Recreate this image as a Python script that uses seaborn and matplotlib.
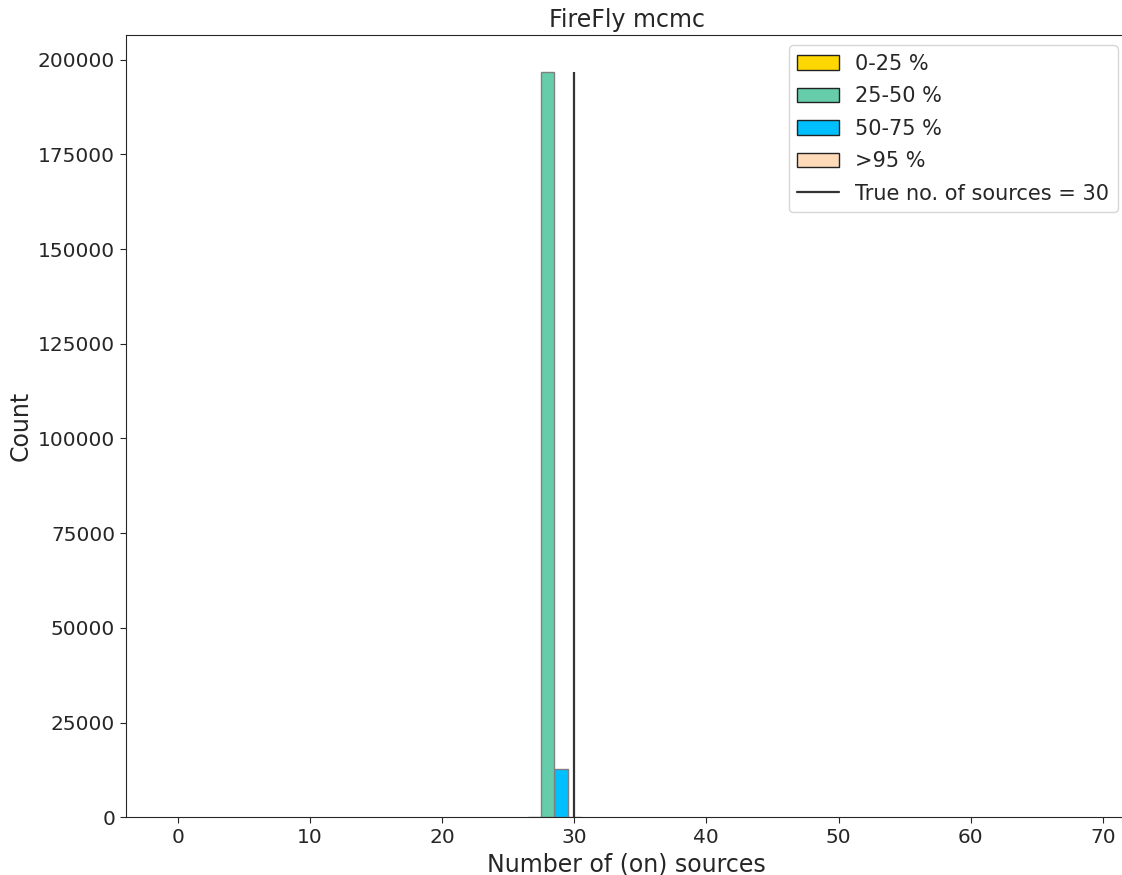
import numpy as np
import pandas as pd
import matplotlib
matplotlib.use("Agg")
import matplotlib.pyplot as plt
from matplotlib.patches import Patch
from matplotlib.lines import Line2D
import seaborn as sns

# Posterior sample counts of the number of "on" sources, split by quantile band
bands = ["0-25 %", "25-50 %", "50-75 %", ">95 %"]
band_colors = ["gold", "mediumaquamarine", "deepskyblue", "peachpuff"]
n_sources = [28, 28, 29, 30]
counts = [0, 196800, 12800, 0]
true_n = 30

df = pd.DataFrame({"n": n_sources, "count": counts, "band": bands})

sns.set_style("ticks")
plt.rcParams["font.family"] = ["DejaVu Sans"]

fig, ax = plt.subplots(figsize=(11.22, 8.75), dpi=100)
fig.subplots_adjust(left=0.1119, right=1.0053, top=0.96, bottom=0.066)

sns.histplot(data=df, x="n", weights="count", hue="band", hue_order=bands,
             palette=band_colors, multiple="dodge", binwidth=4,
             binrange=(26.5, 30.5), alpha=1, edgecolor="gray", linewidth=1,
             legend=False, ax=ax)

ax.vlines(true_n, 0, max(counts), color="#333333", linewidth=1.6)

ax.set_xlim(-3.95, 71.9)
ax.set_ylim(0, 206500)
ax.set_xticks(np.arange(0, 71, 10))
ax.set_yticks(np.arange(0, 200001, 25000))
ax.tick_params(labelsize=14.5, length=4)
ax.set_xlabel("Number of (on) sources", fontsize=17)
ax.set_ylabel("Count", fontsize=17)
ax.set_title("FireFly mcmc", fontsize=17)

handles = [Patch(facecolor=c, edgecolor="#222222", label=b)
           for b, c in zip(bands, band_colors)]
handles.append(Line2D([0], [0], color="#333333", linewidth=1.6,
                      label=f"True no. of sources = {true_n}"))
ax.legend(handles=handles, loc="upper right", fontsize=15, frameon=True,
          labelspacing=0.6)

fig.savefig("out.png", dpi=100)
